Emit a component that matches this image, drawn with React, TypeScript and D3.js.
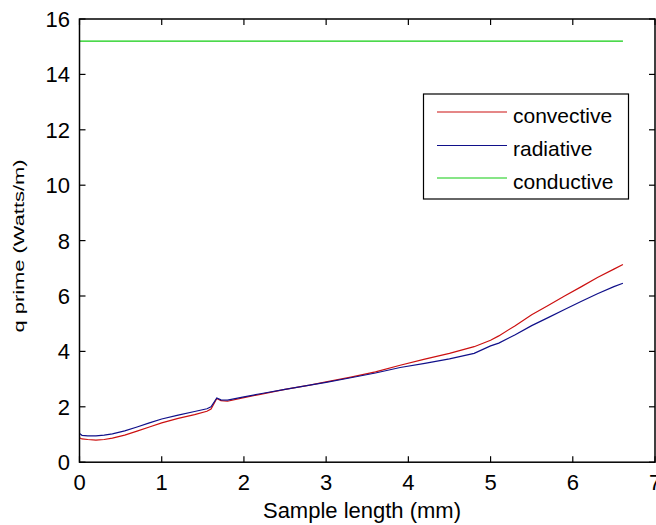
import React from "react";
import * as d3 from "d3";

const xValues = [0, 0.03, 0.1, 0.2, 0.3, 0.4, 0.55, 0.7, 0.85, 1.0, 1.2, 1.4, 1.55, 1.6, 1.67, 1.72, 1.8, 2.0, 2.2, 2.5, 2.8, 3.0, 3.3, 3.6, 3.9, 4.2, 4.5, 4.8, 5.0, 5.1, 5.3, 5.5, 5.7, 5.9, 6.1, 6.3, 6.5, 6.61];
const convective = [0.88, 0.84, 0.82, 0.8, 0.82, 0.87, 0.98, 1.12, 1.27, 1.42, 1.58, 1.72, 1.84, 1.92, 2.3, 2.22, 2.2, 2.33, 2.45, 2.63, 2.78, 2.9, 3.07, 3.26, 3.5, 3.72, 3.93, 4.17, 4.4, 4.56, 4.93, 5.32, 5.66, 6.0, 6.33, 6.67, 6.97, 7.14];
const radiative = [1.04, 0.97, 0.95, 0.95, 0.98, 1.02, 1.13, 1.27, 1.42, 1.56, 1.7, 1.83, 1.93, 2.0, 2.32, 2.25, 2.24, 2.36, 2.47, 2.63, 2.78, 2.88, 3.05, 3.22, 3.42, 3.57, 3.73, 3.93, 4.2, 4.3, 4.6, 4.93, 5.22, 5.51, 5.8, 6.08, 6.34, 6.46];
const conductiveX = [0, 6.61];
const conductive = [15.2, 15.2];

const xTicks = [0, 1, 2, 3, 4, 5, 6, 7];
const yTicks = [0, 2, 4, 6, 8, 10, 12, 14, 16];
const seriesNames = ["convective", "radiative", "conductive"];
const seriesColors = ["#cc1010", "#10108a", "#10cc10"];
const xLabel = "Sample length (mm)";
const yLabel = "q prime (Watts/m)";

export default function App() {
  const W = 656, H = 525;
  const left = 79.5, right = 655, top = 19, bottom = 462.2;
  const x = d3.scaleLinear().domain([0, 7]).range([left, right]);
  const y = d3.scaleLinear().domain([0, 16]).range([bottom, top]);
  const line = d3.line<[number, number]>().x(d => x(d[0])).y(d => y(d[1]));
  const series = [
    xValues.map((v, i) => [v, convective[i]] as [number, number]),
    xValues.map((v, i) => [v, radiative[i]] as [number, number]),
    conductiveX.map((v, i) => [v, conductive[i]] as [number, number]),
  ];
  const font = "'Liberation Sans', Arial, Helvetica, sans-serif";
  const tl = 6;
  const legX = 423.5, legY = 94, legW = 205, legH = 105;
  const rowY = [112, 145.5, 178];
  return (
    <svg width={W} height={H} style={{ position: "absolute", left: 0, top: 0, background: "#fff" }} fontFamily={font}>
      <rect x={0} y={0} width={W} height={H} fill="#fff" />
      {series.map((s, i) => (
        <path key={i} d={line(s) || ""} fill="none" stroke={seriesColors[i]} strokeWidth={1.2} />
      ))}
      <rect x={left} y={top} width={right - left} height={bottom - top} fill="none" stroke="#000" strokeWidth={1.5} />
      {xTicks.map(t => (
        <g key={"x" + t}>
          <line x1={x(t)} x2={x(t)} y1={bottom} y2={bottom - tl} stroke="#000" strokeWidth={1.2} />
          <line x1={x(t)} x2={x(t)} y1={top} y2={top + tl} stroke="#000" strokeWidth={1.2} />
          <text x={x(t)} y={490} fontSize={22} textAnchor="middle" fill="#000">{t}</text>
        </g>
      ))}
      {yTicks.map(t => (
        <g key={"y" + t}>
          <line x1={left} x2={left + tl} y1={y(t)} y2={y(t)} stroke="#000" strokeWidth={1.2} />
          <line x1={right} x2={right - tl} y1={y(t)} y2={y(t)} stroke="#000" strokeWidth={1.2} />
          <text x={70} y={y(t) + 8} fontSize={22} textAnchor="end" fill="#000">{t}</text>
        </g>
      ))}
      <text x={362} y={518} fontSize={22} textAnchor="middle" fill="#000">{xLabel}</text>
      <text transform={`translate(24,246) rotate(-90)`} fontSize={15} textAnchor="middle" textLength={173} lengthAdjust="spacingAndGlyphs" fill="#000">{yLabel}</text>
      <rect x={legX} y={legY} width={legW} height={legH} fill="#fff" stroke="#000" strokeWidth={1.2} />
      {seriesNames.map((n, i) => (
        <g key={n}>
          <line x1={437} x2={507} y1={rowY[i]} y2={rowY[i]} stroke={seriesColors[i]} strokeWidth={1.2} />
          <text x={513} y={rowY[i] + 10.5} fontSize={21} fill="#000">{n}</text>
        </g>
      ))}
    </svg>
  );
}
